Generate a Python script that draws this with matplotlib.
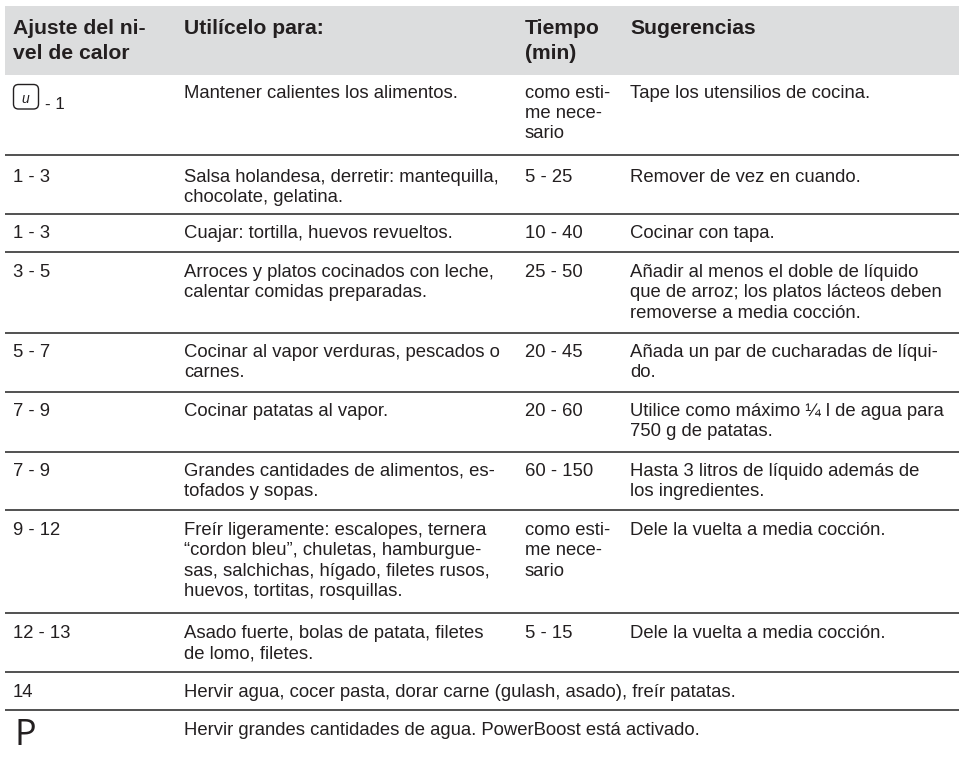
import matplotlib
matplotlib.use("Agg")
import matplotlib.pyplot as plt
from matplotlib.patches import FancyBboxPatch, Rectangle

plt.rcParams['font.family'] = ['Liberation Sans', 'DejaVu Sans']

headers = ["Ajuste del ni-\nvel de calor", "Utilícelo para:", "Tiempo\n(min)", "Sugerencias"]
levels = ["- 1", "1 - 3", "1 - 3", "3 - 5", "5 - 7", "7 - 9", "7 - 9", "9 - 12", "12 - 13", "14", "P"]
uses = ["Mantener calientes los alimentos.",
        "Salsa holandesa, derretir: mantequilla,\nchocolate, gelatina.",
        "Cuajar: tortilla, huevos revueltos.",
        "Arroces y platos cocinados con leche,\ncalentar comidas preparadas.",
        "Cocinar al vapor verduras, pescados o\ncarnes.",
        "Cocinar patatas al vapor.",
        "Grandes cantidades de alimentos, es-\ntofados y sopas.",
        "Freír ligeramente: escalopes, ternera\n“cordon bleu”, chuletas, hamburgue-\nsas, salchichas, hígado, filetes rusos,\nhuevos, tortitas, rosquillas.",
        "Asado fuerte, bolas de patata, filetes\nde lomo, filetes.",
        "Hervir agua, cocer pasta, dorar carne (gulash, asado), freír patatas.",
        "Hervir grandes cantidades de agua. PowerBoost está activado."]
times = ["como esti-\nme nece-\nsario", "5 - 25", "10 - 40", "25 - 50", "20 - 45", "20 - 60", "60 - 150",
         "como esti-\nme nece-\nsario", "5 - 15", "", ""]
tips = ["Tape los utensilios de cocina.", "Remover de vez en cuando.", "Cocinar con tapa.",
        "Añadir al menos el doble de líquido\nque de arroz; los platos lácteos deben\nremoverse a media cocción.",
        "Añada un par de cucharadas de líqui-\ndo.",
        "Utilice como máximo ¼ l de agua para\n750 g de patatas.",
        "Hasta 3 litros de líquido además de\nlos ingredientes.",
        "Dele la vuelta a media cocción.", "Dele la vuelta a media cocción.", "", ""]
rules = [154.5, 213.7, 252, 333, 392, 452, 510, 613, 672, 710]
row_tops = [85, 169, 225, 264, 344, 403, 463, 522, 625, 684, 722]

fig = plt.figure(figsize=(9.59, 7.57), dpi=100)
ax = fig.add_axes([0, 0, 1, 1])
ax.set_xlim(0, 959); ax.set_ylim(757, 0); ax.axis('off')
X = [13, 184, 525, 630]
ax.add_patch(Rectangle((5, 6), 954, 69, fc='#dcddde', ec='none'))
INK = '#231f20'
for x, h in zip(X, headers):
    ax.text(x, 19, h, fontsize=15.2, fontweight='bold', color=INK, va='top', linespacing=1.38)
for y in rules:
    ax.plot([5, 959], [y, y], color='#333333', lw=1.2, solid_capstyle='butt')
fs = 13.36
for i, y in enumerate(row_tops):
    for x, t in zip(X, [levels[i], uses[i], times[i], tips[i]]):
        if x == X[0] and i == 0:
            ax.text(45, y + 12, t, fontsize=12.2, color=INK, va='top')
            continue
        if x == X[0] and t == "P":
            ax.text(15, y - 4, t, fontsize=26, color=INK, va='top', family='Open Sans')
            continue
        ax.text(x, y, t, fontsize=fs, color=INK, va='top', linespacing=1.25)
ax.add_patch(FancyBboxPatch((13.5, 84.5), 25, 24.5, boxstyle='round,pad=0,rounding_size=5', fc='none', ec=INK, lw=1))
ax.text(25.5, 99, "u", fontsize=10, style='italic', ha='center', va='center', color=INK)
fig.savefig('out.png', dpi=100)
